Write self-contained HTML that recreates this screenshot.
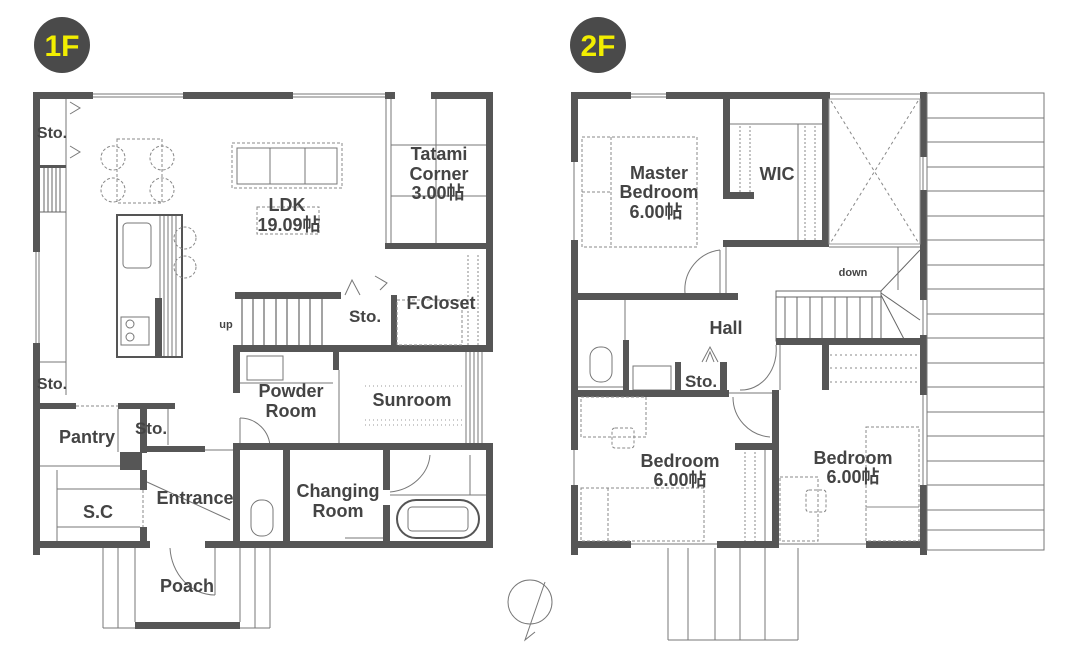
<!DOCTYPE html>
<html><head><meta charset="utf-8"><style>
html,body{margin:0;padding:0;background:#fff}
svg{display:block}
text{font-family:"Liberation Sans","Noto Sans CJK JP",sans-serif;font-weight:bold;fill:#444;text-anchor:middle}
.w{fill:#565656}
.t{stroke:#777;stroke-width:1;fill:none}
.d{stroke:#888;stroke-width:1;fill:none;stroke-dasharray:3 2}
</style></head><body>
<svg width="1080" height="662" viewBox="0 0 1080 662" xmlns="http://www.w3.org/2000/svg">
<circle cx="62" cy="45" r="28" fill="#4a4a4a"/>
<text x="62" y="56" font-size="30" style="fill:#f2ee00">1F</text>
<circle cx="598" cy="45" r="28" fill="#4a4a4a"/>
<text x="598" y="56" font-size="30" style="fill:#f2ee00">2F</text>

<!-- ===== 1F ===== -->
<line class="t" x1="90" y1="94" x2="385" y2="94"/><line class="t" x1="90" y1="97" x2="385" y2="97"/>
<line class="t" x1="36" y1="250" x2="36" y2="345"/><line class="t" x1="39" y1="250" x2="39" y2="345"/>
<rect class="w" x="33" y="92" width="60" height="7"/>
<rect class="w" x="183" y="92" width="110" height="7"/>
<rect class="w" x="385" y="92" width="10" height="7"/>
<rect class="w" x="431" y="92" width="62" height="7"/>
<rect class="w" x="33" y="92" width="7" height="160"/>
<rect class="w" x="33" y="343" width="7" height="212"/>
<rect class="w" x="486" y="92" width="7" height="260"/>
<rect class="w" x="486" y="445" width="7" height="103"/>
<rect class="w" x="33" y="541" width="117" height="7"/>
<rect class="w" x="205" y="541" width="288" height="7"/>
<line class="t" x1="66" y1="99" x2="66" y2="395"/>
<path d="M70 102 L80 108 L70 114 M70 146 L80 152 L70 158" class="t" stroke-width="2"/>
<rect class="w" x="40" y="165" width="26" height="3"/>
<g stroke="#666"><line x1="44" y1="168" x2="44" y2="212"/><line x1="48" y1="168" x2="48" y2="212"/><line x1="52" y1="168" x2="52" y2="212"/><line x1="56" y1="168" x2="56" y2="212"/><line x1="60" y1="168" x2="60" y2="212"/><line x1="40" y1="212" x2="66" y2="212"/></g>
<line class="t" x1="40" y1="362" x2="66" y2="362"/>
<rect class="d" x="117" y="139" width="45" height="64"/>
<circle class="d" cx="113" cy="158" r="12"/><circle class="d" cx="162" cy="158" r="12"/>
<circle class="d" cx="113" cy="190" r="12"/><circle class="d" cx="162" cy="190" r="12"/>
<rect x="117" y="215" width="65" height="142" fill="none" stroke="#555" stroke-width="2"/>
<rect class="t" x="123" y="223" width="28" height="45" rx="4"/>
<rect class="t" x="121" y="317" width="28" height="28"/>
<circle class="t" cx="130" cy="324" r="4"/><circle class="t" cx="130" cy="337" r="4"/>
<g stroke="#777" stroke-width="1">
<line x1="160" y1="216" x2="160" y2="356"/><line x1="164" y1="216" x2="164" y2="356"/><line x1="168" y1="216" x2="168" y2="356"/><line x1="172" y1="216" x2="172" y2="356"/><line x1="176" y1="216" x2="176" y2="356"/>
</g>
<rect class="w" x="155" y="298" width="7" height="58"/>
<circle class="d" cx="185" cy="238" r="11"/><circle class="d" cx="185" cy="267" r="11"/>
<rect class="d" x="232" y="143" width="110" height="45"/>
<rect class="t" x="237" y="148" width="100" height="36"/>
<line class="t" x1="270" y1="148" x2="270" y2="184"/><line class="t" x1="305" y1="148" x2="305" y2="184"/>
<rect class="d" x="257" y="207" width="62" height="27"/>
<rect class="w" x="385" y="243" width="108" height="6"/>
<line class="t" x1="386" y1="99" x2="386" y2="243"/><line class="t" x1="391" y1="99" x2="391" y2="243"/>
<line class="t" x1="436" y1="99" x2="436" y2="243"/><line class="t" x1="391" y1="145" x2="486" y2="145"/><line class="t" x1="391" y1="196" x2="486" y2="196"/>
<rect class="w" x="235" y="292" width="106" height="7"/>
<g stroke="#666" stroke-width="1.2">
<line x1="242" y1="299" x2="242" y2="345"/><line x1="253" y1="299" x2="253" y2="345"/><line x1="264" y1="299" x2="264" y2="345"/><line x1="276" y1="299" x2="276" y2="345"/><line x1="287" y1="299" x2="287" y2="345"/><line x1="299" y1="299" x2="299" y2="345"/><line x1="310" y1="299" x2="310" y2="345"/><line x1="322" y1="299" x2="322" y2="345"/>
</g>
<path class="t" d="M345 295 L352 280 L360 295 M375 276 L387 283 L380 290" stroke-width="2"/>
<rect class="w" x="391" y="295" width="6" height="52"/>
<rect class="w" x="233" y="345" width="258" height="7"/>
<rect class="d" x="397" y="300" width="65" height="45"/>
<g stroke="#888" stroke-dasharray="2 2"><line x1="468" y1="255" x2="468" y2="345"/><line x1="478" y1="255" x2="478" y2="345"/></g>
<rect class="w" x="233" y="345" width="7" height="48"/>
<rect class="w" x="333" y="345" width="6" height="25"/>
<line class="t" x1="339" y1="370" x2="339" y2="445"/>
<rect class="t" x="247" y="356" width="36" height="24"/>
<line class="t" x1="240" y1="383" x2="333" y2="383"/>
<path class="t" d="M240 418 A30 30 0 0 1 270 448"/>
<line class="t" x1="240" y1="418" x2="240" y2="448"/>
<rect class="w" x="233" y="443" width="260" height="7"/>
<g stroke="#777"><line x1="466" y1="352" x2="466" y2="443"/><line x1="470" y1="352" x2="470" y2="443"/><line x1="474" y1="352" x2="474" y2="443"/><line x1="478" y1="352" x2="478" y2="443"/><line x1="482" y1="352" x2="482" y2="443"/></g>
<g stroke="#999" stroke-dasharray="1 3"><line x1="365" y1="386" x2="462" y2="386"/><line x1="365" y1="425" x2="462" y2="425"/><line x1="365" y1="420" x2="462" y2="420"/></g>
<rect class="w" x="40" y="403" width="36" height="6"/>
<rect class="w" x="118" y="403" width="57" height="6"/>
<line class="d" x1="76" y1="406" x2="118" y2="406"/>
<line class="t" x1="40" y1="466" x2="120" y2="466"/>
<rect class="w" x="120" y="452" width="22" height="18"/>
<rect class="w" x="140" y="403" width="7" height="50"/>
<line class="t" x1="118" y1="409" x2="118" y2="452"/>
<line class="t" x1="168" y1="409" x2="168" y2="445"/>
<line class="t" x1="57" y1="470" x2="57" y2="541"/>
<line class="t" x1="57" y1="489" x2="140" y2="489"/><line class="t" x1="57" y1="527" x2="140" y2="527"/>
<rect class="w" x="140" y="470" width="7" height="20"/>
<rect class="w" x="140" y="527" width="7" height="21"/>
<line class="d" x1="143" y1="490" x2="143" y2="527"/>
<rect class="w" x="147" y="446" width="58" height="6"/>
<line class="t" x1="205" y1="450" x2="233" y2="450"/>
<line class="t" x1="147" y1="482" x2="230" y2="520"/>
<rect class="w" x="233" y="445" width="7" height="103"/>
<rect class="w" x="283" y="445" width="7" height="103"/>
<rect class="t" x="251" y="500" width="22" height="36" rx="10"/>
<rect class="w" x="383" y="450" width="7" height="40"/>
<rect class="w" x="383" y="505" width="7" height="43"/>
<line class="t" x1="345" y1="538" x2="383" y2="538"/>
<path class="t" d="M390 492 A45 40 0 0 0 430 455"/>
<line class="t" x1="390" y1="495" x2="486" y2="495"/>
<rect x="397" y="500" width="82" height="38" rx="19" fill="none" stroke="#555" stroke-width="2"/>
<rect class="t" x="408" y="507" width="60" height="24" rx="4"/>
<line class="t" x1="470" y1="455" x2="470" y2="495"/>
<g stroke="#777" fill="none">
<line x1="103" y1="548" x2="103" y2="628"/><line x1="118" y1="548" x2="118" y2="628"/><line x1="135" y1="548" x2="135" y2="622"/>
<line x1="240" y1="548" x2="240" y2="622"/><line x1="255" y1="548" x2="255" y2="628"/><line x1="270" y1="548" x2="270" y2="628"/>
<line x1="103" y1="628" x2="135" y2="628"/><line x1="240" y1="628" x2="270" y2="628"/>
<path d="M170 548 A45 50 0 0 0 215 595"/><line x1="215" y1="548" x2="215" y2="595"/>
</g>
<rect class="w" x="135" y="622" width="105" height="7"/>
<text x="52" y="138" font-size="16">Sto.</text>
<text x="52" y="389" font-size="16">Sto.</text>
<text x="287" y="211" font-size="18">LDK</text>
<text x="289" y="231" font-size="18">19.09帖</text>
<text x="439" y="160" font-size="18">Tatami</text>
<text x="439" y="180" font-size="18">Corner</text>
<text x="438" y="199" font-size="18">3.00帖</text>
<text x="226" y="328" font-size="11">up</text>
<text x="365" y="322" font-size="17">Sto.</text>
<text x="441" y="309" font-size="18">F.Closet</text>
<text x="291" y="397" font-size="18">Powder</text>
<text x="291" y="417" font-size="18">Room</text>
<text x="412" y="406" font-size="18">Sunroom</text>
<text x="87" y="443" font-size="18">Pantry</text>
<text x="151" y="434" font-size="17">Sto.</text>
<text x="98" y="518" font-size="18">S.C</text>
<text x="195" y="504" font-size="18">Entrance</text>
<text x="338" y="497" font-size="18">Changing</text>
<text x="338" y="517" font-size="18">Room</text>
<text x="187" y="592" font-size="18">Poach</text>

<circle cx="530" cy="602" r="22" fill="none" stroke="#777"/>
<path d="M545 582 L525 640 L535 632" fill="none" stroke="#777"/>

<!-- ===== 2F ===== -->
<line class="t" x1="630" y1="94" x2="668" y2="94"/><line class="t" x1="630" y1="97" x2="668" y2="97"/>
<rect class="w" x="571" y="92" width="60" height="7"/>
<rect class="w" x="666" y="92" width="164" height="7"/>
<line class="t" x1="830" y1="94" x2="922" y2="94"/>
<rect class="w" x="571" y="92" width="7" height="70"/>
<line class="t" x1="574" y1="162" x2="574" y2="240"/>
<rect class="w" x="571" y="240" width="7" height="210"/>
<line class="t" x1="574" y1="450" x2="574" y2="485"/>
<rect class="w" x="571" y="485" width="7" height="70"/>
<rect class="w" x="920" y="92" width="7" height="65"/>
<rect class="w" x="920" y="190" width="7" height="110"/>
<rect class="w" x="920" y="335" width="7" height="60"/>
<rect class="w" x="920" y="485" width="7" height="70"/>
<line class="t" x1="923" y1="157" x2="923" y2="190"/><line class="t" x1="923" y1="300" x2="923" y2="335"/><line class="t" x1="923" y1="395" x2="923" y2="485"/>
<rect class="w" x="571" y="541" width="60" height="7"/>
<rect class="w" x="717" y="541" width="60" height="7"/>
<rect class="w" x="866" y="541" width="61" height="7"/>
<line class="t" x1="631" y1="544" x2="717" y2="544"/><line class="t" x1="777" y1="544" x2="866" y2="544"/>
<rect x="927" y="93" width="117" height="457" fill="none" stroke="#777"/>
<g stroke="#777">
<line x1="927" y1="118" x2="1044" y2="118"/><line x1="927" y1="142" x2="1044" y2="142"/><line x1="927" y1="167" x2="1044" y2="167"/><line x1="927" y1="191" x2="1044" y2="191"/><line x1="927" y1="216" x2="1044" y2="216"/><line x1="927" y1="240" x2="1044" y2="240"/><line x1="927" y1="265" x2="1044" y2="265"/><line x1="927" y1="289" x2="1044" y2="289"/><line x1="927" y1="314" x2="1044" y2="314"/><line x1="927" y1="338" x2="1044" y2="338"/><line x1="927" y1="363" x2="1044" y2="363"/><line x1="927" y1="387" x2="1044" y2="387"/><line x1="927" y1="412" x2="1044" y2="412"/><line x1="927" y1="436" x2="1044" y2="436"/><line x1="927" y1="461" x2="1044" y2="461"/><line x1="927" y1="485" x2="1044" y2="485"/><line x1="927" y1="510" x2="1044" y2="510"/><line x1="927" y1="530" x2="1044" y2="530"/>
</g>
<g stroke="#777">
<line x1="668" y1="548" x2="668" y2="640"/><line x1="688" y1="548" x2="688" y2="640"/><line x1="715" y1="548" x2="715" y2="640"/><line x1="740" y1="548" x2="740" y2="640"/><line x1="765" y1="548" x2="765" y2="640"/><line x1="798" y1="548" x2="798" y2="640"/><line x1="668" y1="640" x2="798" y2="640"/>
</g>
<rect class="d" x="582" y="137" width="115" height="110"/>
<line class="d" x1="611" y1="137" x2="611" y2="247"/><line class="d" x1="582" y1="192" x2="611" y2="192"/>
<rect class="w" x="723" y="99" width="7" height="100"/>
<rect class="w" x="730" y="192" width="24" height="7"/>
<rect class="w" x="822" y="92" width="7" height="155"/>
<rect class="w" x="723" y="240" width="106" height="7"/>
<rect class="w" x="578" y="293" width="160" height="7"/>
<line class="t" x1="730" y1="124" x2="822" y2="124"/>
<g stroke="#888" stroke-dasharray="2 2"><line x1="740" y1="126" x2="740" y2="192"/><line x1="750" y1="126" x2="750" y2="192"/><line x1="805" y1="126" x2="805" y2="240"/><line x1="815" y1="126" x2="815" y2="240"/></g>
<line class="t" x1="798" y1="124" x2="798" y2="240"/>
<rect x="829" y="99" width="91" height="145" fill="none" stroke="#999"/>
<path d="M831 101 L918 242 M918 101 L831 242" stroke="#888" stroke-dasharray="3 3"/>
<path class="t" d="M685 293 A40 40 0 0 1 720 250"/>
<line class="t" x1="720" y1="250" x2="720" y2="293"/><line class="t" x1="726" y1="247" x2="726" y2="293"/>
<line class="t" x1="829" y1="247" x2="920" y2="247"/>
<line class="t" x1="898" y1="247" x2="898" y2="290"/>
<rect x="776" y="291" width="105" height="50" fill="none" stroke="#666"/>
<g stroke="#666"><line x1="785" y1="297" x2="785" y2="341"/><line x1="797" y1="297" x2="797" y2="341"/><line x1="810" y1="297" x2="810" y2="341"/><line x1="822" y1="297" x2="822" y2="341"/><line x1="835" y1="297" x2="835" y2="341"/><line x1="847" y1="297" x2="847" y2="341"/><line x1="860" y1="297" x2="860" y2="341"/><line x1="872" y1="297" x2="872" y2="341"/><line x1="776" y1="297" x2="881" y2="297"/>
<line x1="881" y1="291" x2="920" y2="250"/><line x1="881" y1="293" x2="920" y2="320"/><line x1="881" y1="295" x2="905" y2="341"/></g>
<rect class="w" x="776" y="338" width="150" height="7"/>
<rect class="w" x="822" y="345" width="7" height="45"/>
<g stroke="#888" stroke-dasharray="2 3"><line x1="830" y1="355" x2="920" y2="355"/><line x1="830" y1="368" x2="920" y2="368"/><line x1="830" y1="382" x2="920" y2="382"/></g>
<path class="t" d="M776 345 A35 40 0 0 1 740 390"/><line class="t" x1="780" y1="345" x2="780" y2="390"/>
<line class="t" x1="625" y1="300" x2="625" y2="340"/>
<rect class="w" x="623" y="340" width="6" height="52"/>
<rect class="t" x="590" y="347" width="22" height="35" rx="10"/>
<line class="t" x1="578" y1="387" x2="623" y2="387"/>
<rect class="t" x="633" y="366" width="38" height="24"/>
<rect class="w" x="675" y="362" width="6" height="30"/>
<rect class="w" x="720" y="362" width="7" height="30"/>
<path class="t" d="M702 362 L710 347 L718 362 M706 362 L710 352 L714 362"/>
<rect class="w" x="578" y="390" width="151" height="7"/>
<line class="t" x1="729" y1="393" x2="776" y2="393"/>
<rect class="w" x="772" y="390" width="7" height="158"/>
<path class="t" d="M733 397 A40 40 0 0 0 770 437"/>
<rect class="w" x="735" y="443" width="37" height="7"/>
<g stroke="#888" stroke-dasharray="2 2"><line x1="745" y1="452" x2="745" y2="541"/><line x1="755" y1="452" x2="755" y2="541"/></g>
<line class="t" x1="765" y1="450" x2="765" y2="541"/>
<rect class="d" x="581" y="397" width="65" height="40"/>
<rect class="d" x="612" y="428" width="22" height="20" rx="3"/>
<rect class="d" x="581" y="488" width="123" height="53"/>
<line class="d" x1="608" y1="488" x2="608" y2="541"/>
<rect class="d" x="866" y="427" width="53" height="80"/>
<rect class="d" x="866" y="507" width="53" height="34"/>
<rect class="d" x="780" y="477" width="38" height="64"/>
<rect class="d" x="806" y="490" width="20" height="22" rx="3"/>
<text x="659" y="179" font-size="18">Master</text>
<text x="659" y="198" font-size="18">Bedroom</text>
<text x="656" y="218" font-size="18">6.00帖</text>
<text x="777" y="180" font-size="18">WIC</text>
<text x="853" y="276" font-size="11">down</text>
<text x="726" y="334" font-size="18">Hall</text>
<text x="701" y="387" font-size="17">Sto.</text>
<text x="680" y="467" font-size="18">Bedroom</text>
<text x="680" y="486" font-size="18">6.00帖</text>
<text x="853" y="464" font-size="18">Bedroom</text>
<text x="853" y="483" font-size="18">6.00帖</text>
</svg>
</body></html>
